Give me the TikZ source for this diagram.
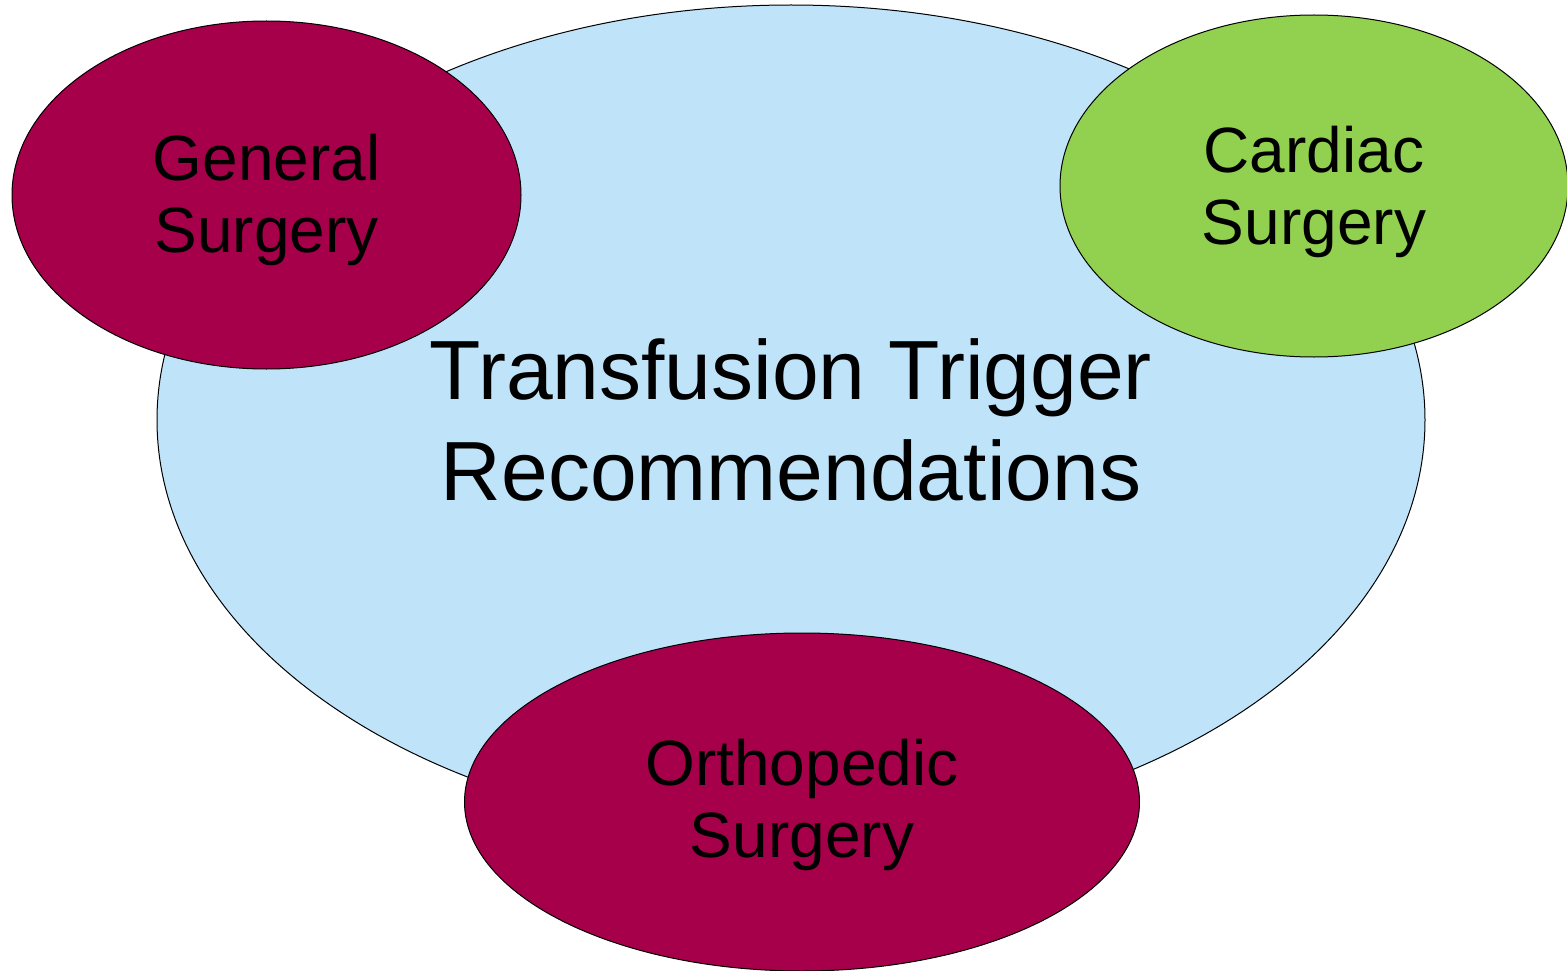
\documentclass[tikz,border=0pt]{standalone}
\usepackage{fontspec}
\setmainfont{Liberation Sans}
\usetikzlibrary{shapes.geometric}
\definecolor{triggerblue}{HTML}{BFE4FA}
\definecolor{surgred}{HTML}{A6004B}
\definecolor{surggreen}{HTML}{92D050}
\tikzset{
 blob/.style={ellipse,draw=black,line width=1pt,inner sep=0pt,align=center},
 small/.style={font=\fontsize{64}{72}\selectfont},
 big/.style={font=\fontsize{84}{101}\selectfont}
}
\begin{document}
\begin{tikzpicture}[x=1pt,y=-1pt]
 \useasboundingbox(0,0)rectangle(1567,971);
 \node[blob,big,fill=triggerblue,minimum width=1268pt,minimum height=830pt](trigger)at(791,420){Transfusion Trigger\\Recommendations};
 \node[blob,small,fill=surgred,text depth=3pt,minimum width=509pt,minimum height=348pt](general)at(266.5,195){General\\Surgery};
 \node[blob,small,fill=surggreen,text depth=1pt,minimum width=508pt,minimum height=342pt](cardiac)at(1314,186){Cardiac\\Surgery};
 \node[blob,small,fill=surgred,text depth=7pt,minimum width=675pt,minimum height=338pt](ortho)at(802,802){Orthopedic\\Surgery};
\end{tikzpicture}
\end{document}
